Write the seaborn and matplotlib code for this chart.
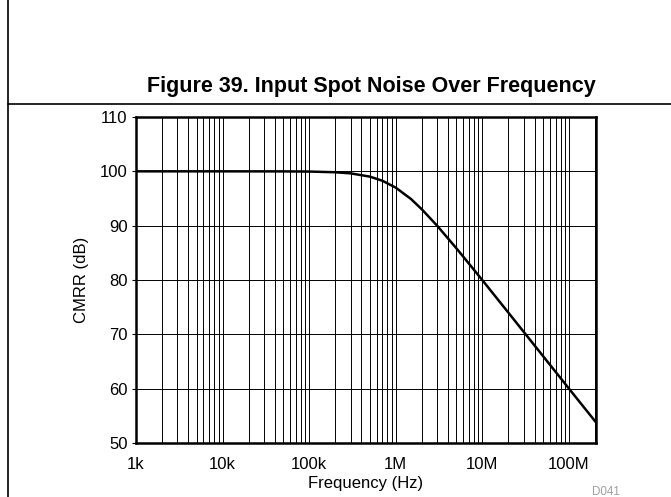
import numpy as np
import pandas as pd
import matplotlib
matplotlib.use('Agg')
import matplotlib.pyplot as plt
import seaborn as sns
from matplotlib.lines import Line2D
from matplotlib.ticker import LogLocator, FixedLocator

# --- dados ---
frequencia_hz = [1e3, 1e4, 5e4, 1e5, 2e5, 3e5, 5e5, 7e5, 1e6, 1.5e6, 2e6,
                 3e6, 5e6, 7e6, 1e7, 2e7, 5e7, 1e8, 2.05e8]
cmrr_db = [100.0, 100.0, 99.99, 99.96, 99.83, 99.63, 99.03, 98.27, 96.99,
           94.9, 93.0, 90.0, 85.85, 83.0, 79.96, 73.97, 66.02, 60.0, 53.8]
x_ticks = [1e3, 1e4, 1e5, 1e6, 1e7, 1e8]
x_tick_labels = ['1k', '10k', '100k', '1M', '10M', '100M']
y_ticks = [50, 60, 70, 80, 90, 100, 110]

df = pd.DataFrame({'Frequencia': frequencia_hz, 'CMRR': cmrr_db})

sns.set_style('white')
plt.rcParams['font.family'] = ['Liberation Sans', 'DejaVu Sans']
plt.rcParams['text.color'] = 'black'
plt.rcParams['axes.labelcolor'] = 'black'
plt.rcParams['xtick.color'] = 'black'
plt.rcParams['ytick.color'] = 'black'

fig = plt.figure(figsize=(6.71, 4.97), dpi=100)
ax = fig.add_axes([136 / 671, 1 - 443 / 497, 460 / 671, 326 / 497])

sns.lineplot(data=df, x='Frequencia', y='CMRR', ax=ax, color='black',
             linewidth=1.8, zorder=5)
ax.set_xscale('log')
ax.set_xlim(1e3, 2.05e8)
ax.set_ylim(50, 110)

ax.xaxis.set_major_locator(FixedLocator(x_ticks))
ax.set_xticklabels(x_tick_labels)
ax.xaxis.set_minor_locator(LogLocator(base=10, subs=np.arange(2, 10)))
ax.set_yticks(y_ticks)

ax.grid(True, which='both', axis='x', color='black', linewidth=0.7)
ax.grid(True, which='major', axis='y', color='black', linewidth=0.7)
ax.tick_params(axis='x', which='both', length=0, labelsize=12, pad=10)
ax.tick_params(axis='y', length=3, width=0.8, labelsize=12, pad=3, left=True)

for s in ax.spines.values():
    s.set_linewidth(1.8)
    s.set_color('black')

ax.set_xlabel('Frequency (Hz)', fontsize=12, labelpad=3)
ax.set_ylabel('CMRR (dB)', fontsize=12, labelpad=8)

# moldura e título no estilo de datasheet
fig.add_artist(Line2D([8 / 671, 8 / 671], [0, 1], color='black', linewidth=1.2))
fig.add_artist(Line2D([8 / 671, 1], [1 - 104 / 497, 1 - 104 / 497],
                      color='black', linewidth=1.2))
fig.text(371 / 671, 1 - 92 / 497, 'Figure 39. Input Spot Noise Over Frequency',
         ha='center', va='baseline', fontsize=15.5, fontweight='bold')
fig.text(606 / 671, 1 - 492 / 497, 'D041', ha='center', va='center',
         fontsize=8.4, color='#a0a0a0')

fig.savefig('out.png', dpi=100)
